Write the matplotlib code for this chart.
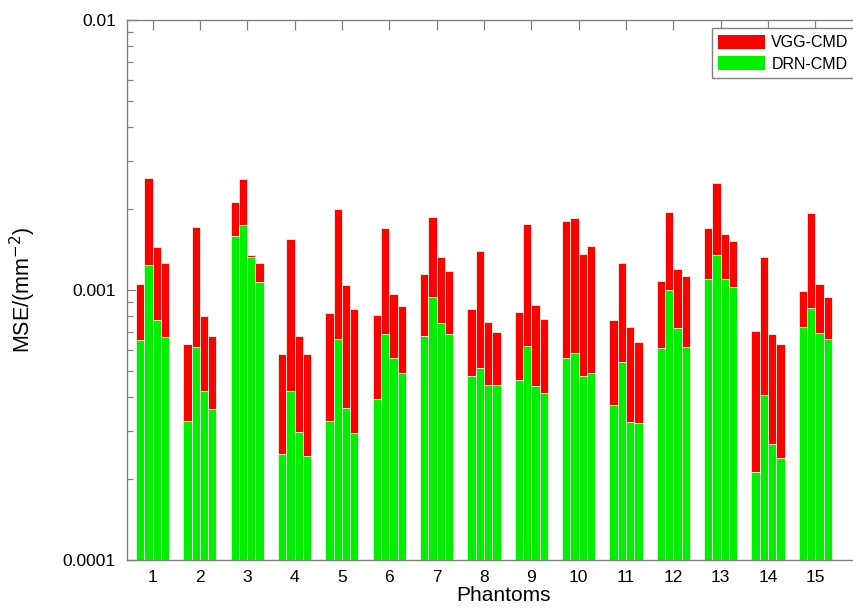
import numpy as np
import matplotlib
matplotlib.use("Agg")
import matplotlib.pyplot as plt
from matplotlib.ticker import FixedLocator, FixedFormatter, LogLocator, NullFormatter
from matplotlib.patches import Patch

plt.rcParams['font.family'] = ['Liberation Sans', 'DejaVu Sans']

phantoms = [str(i) for i in range(1, 16)]

# MSE per phantom, four test cases each
vgg_cmd = [
    [0.00105, 0.00259, 0.00144, 0.00126],
    [0.000631, 0.00171, 0.000799, 0.000675],
    [0.00211, 0.00258, 0.00135, 0.00126],
    [0.000579, 0.00155, 0.000677, 0.000578],
    [0.000822, 0.00200, 0.00104, 0.000848],
    [0.000810, 0.00169, 0.000969, 0.000872],
    [0.00115, 0.00186, 0.00133, 0.00118],
    [0.000848, 0.00140, 0.000761, 0.000701],
    [0.000827, 0.00176, 0.000882, 0.000781],
    [0.00180, 0.00184, 0.00136, 0.00145],
    [0.000774, 0.00126, 0.000729, 0.000640],
    [0.00108, 0.00194, 0.00120, 0.00113],
    [0.00170, 0.00250, 0.00161, 0.00152],
    [0.000707, 0.00132, 0.000685, 0.000629],
    [0.000989, 0.00193, 0.00105, 0.000942],
]
drn_cmd = [
    [0.000653, 0.00124, 0.000772, 0.000671],
    [0.000327, 0.000614, 0.000422, 0.000363],
    [0.00158, 0.00174, 0.00132, 0.00107],
    [0.000246, 0.000422, 0.000297, 0.000243],
    [0.000327, 0.000658, 0.000365, 0.000295],
    [0.000395, 0.000687, 0.000558, 0.000491],
    [0.000675, 0.000945, 0.000757, 0.000685],
    [0.000482, 0.000516, 0.000444, 0.000444],
    [0.000464, 0.000622, 0.000442, 0.000414],
    [0.000560, 0.000584, 0.000482, 0.000494],
    [0.000374, 0.000543, 0.000324, 0.000321],
    [0.000610, 0.00100, 0.000725, 0.000614],
    [0.00110, 0.00135, 0.00110, 0.00103],
    [0.000211, 0.000407, 0.000268, 0.000238],
    [0.000727, 0.000855, 0.000693, 0.000658],
]

y_min, y_max = 1e-4, 1e-2
red = '#ff0000'
green = '#00f000'
edge = '#e8f8e8'

W, H = 854, 608
fig = plt.figure(figsize=(W / 100, H / 100), dpi=100)
# axes box runs off the right side of the canvas
left_px, right_px, top_px, bottom_px = 127, 880, 20, 560
ax = fig.add_axes([left_px / W, 1 - bottom_px / H,
                   (right_px - left_px) / W, (bottom_px - top_px) / H])

vgg = np.array(vgg_cmd)
drn = np.array(drn_cmd)
groups = np.arange(1, len(phantoms) + 1)
n = vgg.shape[1]
group_w = 0.70
bw = group_w / n
offsets = (np.arange(n) - (n - 1) / 2) * bw

for j in range(n):
    ax.bar(groups + offsets[j], vgg[:, j] - y_min, bottom=y_min, width=bw,
           color=red, edgecolor=edge, linewidth=0.6, zorder=2)
for j in range(n):
    ax.bar(groups + offsets[j], drn[:, j] - y_min, bottom=y_min, width=bw,
           color=green, edgecolor=edge, linewidth=0.6, zorder=3)

px_per_unit = 47.35
x0 = 1 - (152.5 - left_px) / px_per_unit
x1 = 1 + (right_px - 152.5) / px_per_unit
ax.set_xlim(x0, x1)
ax.set_yscale('log')
ax.set_ylim(y_min, y_max)

ax.xaxis.set_major_locator(FixedLocator(groups))
ax.xaxis.set_major_formatter(FixedFormatter(phantoms))
ax.yaxis.set_major_locator(FixedLocator([1e-4, 1e-3, 1e-2]))
ax.yaxis.set_major_formatter(FixedFormatter(['0.0001', '0.001', '0.01']))
ax.yaxis.set_minor_locator(LogLocator(base=10, subs=np.arange(2, 10)))
ax.yaxis.set_minor_formatter(NullFormatter())

spine_col = '#808080'
for s in ax.spines.values():
    s.set_color(spine_col)
    s.set_linewidth(1.0)
    s.set_zorder(5)
ax.set_axisbelow(True)
ax.tick_params(axis='both', which='both', direction='in', color=spine_col,
               top=True, right=True, labelsize=12.5, width=0.9)
ax.tick_params(axis='both', which='major', length=7, pad=7)
ax.tick_params(axis='both', which='minor', length=4)
ax.tick_params(axis='y', which='major', pad=8)

ax.set_xlabel('Phantoms', fontsize=15, labelpad=1)
ax.set_ylabel('MSE/(mm$^{-2}$)', fontsize=15.5, labelpad=18)

handles = [Patch(facecolor=red, edgecolor='none', label='VGG-CMD'),
           Patch(facecolor=green, edgecolor='none', label='DRN-CMD')]
leg = ax.legend(handles=handles, loc='upper left',
                bbox_to_anchor=(711.7 / W, 1 - 28.3 / H),
                bbox_transform=fig.transFigure, fontsize=11.5,
                frameon=True, fancybox=False, framealpha=1,
                handlelength=2.95, handleheight=1.0, handletextpad=0.38,
                borderpad=0.4, labelspacing=0.35, borderaxespad=0)
leg.get_frame().set_edgecolor(spine_col)
leg.get_frame().set_linewidth(1.0)

fig.savefig('out.png', dpi=100)
